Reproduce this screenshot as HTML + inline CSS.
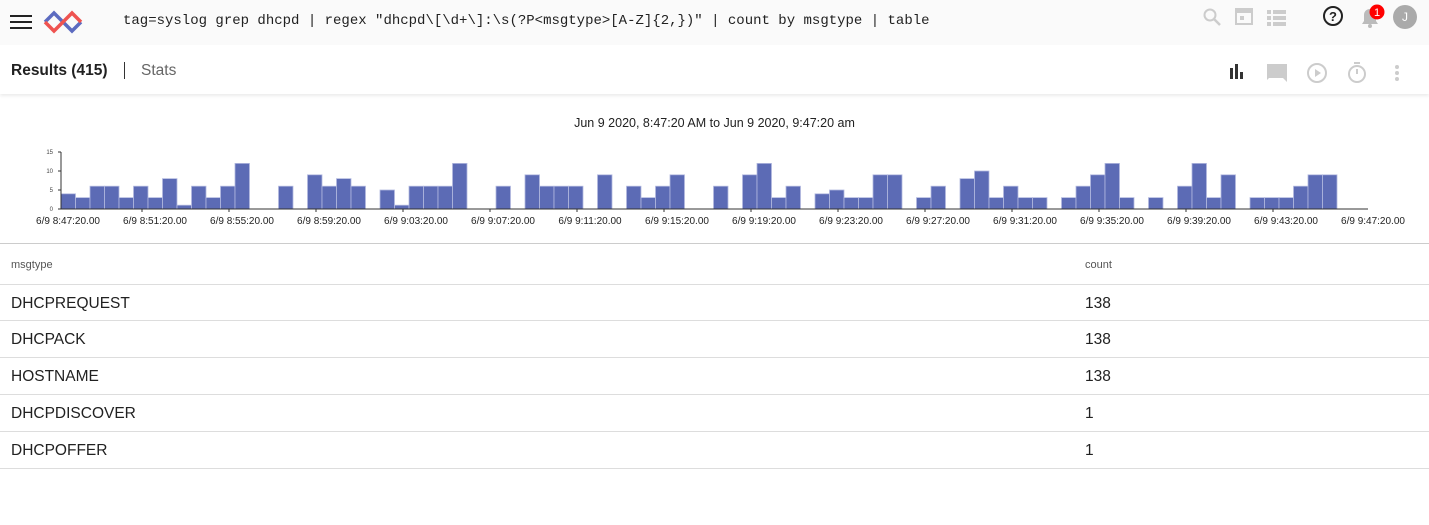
<!DOCTYPE html>
<html><head><meta charset="utf-8"><style>
*{box-sizing:border-box}
body{margin:0;width:1429px;height:525px;overflow:hidden;background:#fff;font-family:"Liberation Sans",sans-serif;color:#212121;position:relative}
.abs{position:absolute}
#topbar{left:0;top:0;width:1429px;height:45px;background:#fafafa}
#query{left:123px;top:13px;font-family:"Liberation Mono",monospace;font-size:14px;color:#212121;white-space:pre}
#toolbar{left:0;top:45px;width:1429px;height:49px;background:#fff;box-shadow:0 2px 3px rgba(0,0,0,0.08)}
.row{left:0;width:1429px;height:37px;border-bottom:1px solid #ddd}
.cell{position:absolute;font-size:15.5px;top:10px}
</style></head><body>
<div id="topbar" class="abs">
 <svg class="abs" style="left:10px;top:13px" width="22" height="18"><rect x="0" y="2" width="22" height="2" fill="#222"/><rect x="0" y="8" width="22" height="2" fill="#222"/><rect x="0" y="14" width="22" height="2" fill="#222"/></svg>
 <svg class="abs" style="left:43px;top:10px" width="40" height="24">
  <path d="M2 12 L11 3 L20 12 L29 21 L38 12" stroke="#5c6bc0" stroke-width="3.5" fill="none"/>
  <path d="M2 12 L11 21 L20 12 L29 3 L38 12" stroke="#ef5350" stroke-width="3.5" fill="none"/>
 </svg>
 <div id="query" class="abs">tag=syslog grep dhcpd | regex "dhcpd\[\d+\]:\s(?P&lt;msgtype&gt;[A-Z]{2,})" | count by msgtype | table</div>
 <svg class="abs" style="left:1202px;top:7px" width="20" height="20"><circle cx="8" cy="8" r="5.5" stroke="#ccc" stroke-width="2" fill="none"/><path d="M12 12 L18 18" stroke="#ccc" stroke-width="2.5"/></svg>
 <svg class="abs" style="left:1234px;top:6px" width="20" height="20"><rect x="2" y="3" width="16" height="15" stroke="#ccc" stroke-width="2" fill="none"/><rect x="2" y="3" width="16" height="4" fill="#ccc"/><rect x="6" y="10" width="4" height="4" fill="#ccc"/></svg>
 <svg class="abs" style="left:1267px;top:8px" width="20" height="18"><g fill="#ccc"><rect x="0" y="2" width="4" height="4"/><rect x="6" y="2" width="13" height="4"/><rect x="0" y="8" width="4" height="4"/><rect x="6" y="8" width="13" height="4"/><rect x="0" y="14" width="4" height="4"/><rect x="6" y="14" width="13" height="4"/></g></svg>
 <svg class="abs" style="left:1322px;top:5px" width="22" height="22"><circle cx="11" cy="11" r="9" stroke="#222" stroke-width="2" fill="none"/><text x="11" y="16" font-size="13" font-weight="bold" text-anchor="middle" fill="#222" font-family="Liberation Sans">?</text></svg>
 <svg class="abs" style="left:1358px;top:4px" width="30" height="24"><path d="M4 20 L20 20 L18 17 L18 11 C18 7 15 5 12 5 C9 5 6 7 6 11 L6 17 Z" fill="#bbb"/><circle cx="12" cy="22" r="2" fill="#bbb"/><circle cx="19" cy="8" r="7.5" fill="#f00"/><text x="19" y="12" font-size="11" text-anchor="middle" fill="#fff" font-family="Liberation Sans">1</text></svg>
 <div class="abs" style="left:1393px;top:5px;width:24px;height:24px;border-radius:50%;background:#aaa;color:#fff;font-size:12px;text-align:center;line-height:24px">J</div>
</div>
<div id="toolbar" class="abs">
 <div class="abs" style="left:11px;top:17px;font-size:15.5px;font-weight:bold;color:#212121">Results (415)</div>
 <div class="abs" style="left:124px;top:17px;width:1px;height:17px;background:#333"></div>
 <div class="abs" style="left:141px;top:17px;font-size:15.5px;color:#666">Stats</div>
 <svg class="abs" style="left:1228px;top:18px" width="20" height="16"><rect x="2" y="5" width="3" height="11" fill="#333"/><rect x="7" y="1" width="3" height="15" fill="#333"/><rect x="12" y="9" width="3" height="7" fill="#333"/></svg>
 <svg class="abs" style="left:1265px;top:17px" width="24" height="22"><path d="M2 2 H22 V16 H4 L2 18 Z" fill="#ccc"/><path d="M18 16 L22 20 V16Z" fill="#ccc"/></svg>
 <svg class="abs" style="left:1306px;top:17px" width="22" height="22"><circle cx="11" cy="11" r="9" stroke="#ccc" stroke-width="2" fill="none"/><path d="M9 7 L15 11 L9 15Z" fill="#ccc"/></svg>
 <svg class="abs" style="left:1346px;top:15px" width="22" height="24"><circle cx="11" cy="14" r="8" stroke="#ccc" stroke-width="2" fill="none"/><rect x="8" y="2" width="6" height="2" fill="#ccc"/><path d="M11 14 L11 9" stroke="#ccc" stroke-width="2"/></svg>
 <svg class="abs" style="left:1393px;top:18px" width="8" height="20"><circle cx="4" cy="4" r="2" fill="#ccc"/><circle cx="4" cy="10" r="2" fill="#ccc"/><circle cx="4" cy="16" r="2" fill="#ccc"/></svg>
</div>
<div class="abs" style="left:0;top:116px;width:1429px;text-align:center;font-size:12.5px;color:#222">Jun 9 2020, 8:47:20 AM to Jun 9 2020, 9:47:20 am</div>
<svg id="chart" class="abs" style="left:0;top:140px" width="1429" height="95"></svg>
<div class="abs" style="left:0;top:243px;width:1429px;height:1px;background:#ccc"></div>
<div class="abs" style="left:11px;top:259px;font-size:11px;color:#555">msgtype</div>
<div class="abs" style="left:1085px;top:259px;font-size:11px;color:#555">count</div>
<div class="abs row" style="top:284px;border-top:1px solid #ddd"><span class="cell" style="left:11px">DHCPREQUEST</span><span class="cell" style="left:1085px">138</span></div>
<div class="abs row" style="top:321px"><span class="cell" style="left:11px">DHCPACK</span><span class="cell" style="left:1085px">138</span></div>
<div class="abs row" style="top:358px"><span class="cell" style="left:11px">HOSTNAME</span><span class="cell" style="left:1085px">138</span></div>
<div class="abs row" style="top:395px"><span class="cell" style="left:11px">DHCPDISCOVER</span><span class="cell" style="left:1085px">1</span></div>
<div class="abs row" style="top:432px"><span class="cell" style="left:11px">DHCPOFFER</span><span class="cell" style="left:1085px">1</span></div>
<script>
const counts=[4,3,6,6,3,6,3,8,1,6,3,6,12,0,0,6,0,9,6,8,6,0,5,1,6,6,6,12,0,0,6,0,9,6,6,6,0,9,0,6,3,6,9,0,0,6,0,9,12,3,6,0,4,5,3,3,9,9,0,3,6,0,8,10,3,6,3,3,0,3,6,9,12,3,0,3,0,6,12,3,9,0,3,3,3,6,9,9,0,0];
const yTicks=[0,5,10,15];
const xLabels=["6/9 8:47:20.00","6/9 8:51:20.00","6/9 8:55:20.00","6/9 8:59:20.00","6/9 9:03:20.00","6/9 9:07:20.00","6/9 9:11:20.00","6/9 9:15:20.00","6/9 9:19:20.00","6/9 9:23:20.00","6/9 9:27:20.00","6/9 9:31:20.00","6/9 9:35:20.00","6/9 9:39:20.00","6/9 9:43:20.00","6/9 9:47:20.00"];
const NS="http://www.w3.org/2000/svg",svg=document.getElementById('chart');
const x0=61,x1=1366,y0=69,yMax=15,yPx=57;
const bw=(x1-x0)/counts.length;
const xs=i=>x0+i*bw, ys=v=>y0-v/yMax*yPx;
function mk(t,a){const e=document.createElementNS(NS,t);for(const k in a)e.setAttribute(k,a[k]);svg.appendChild(e);return e;}
counts.forEach((v,i)=>{if(!v)return;const r=mk('rect',{x:xs(i),y:ys(v),width:bw,height:y0-ys(v),fill:'#5c6bb5',stroke:'#b3bae0','stroke-width':0.8});

});
mk('line',{x1:x0,y1:ys(15),x2:x0,y2:y0,stroke:'#333','stroke-width':1});
mk('line',{x1:x0,y1:y0,x2:x1+2,y2:y0,stroke:'#333','stroke-width':1});
yTicks.forEach(v=>{mk('line',{x1:x0-3,x2:x0,y1:ys(v),y2:ys(v),stroke:'#333'});
const t=mk('text',{x:x0-8,y:ys(v)+2,'font-size':6,'text-anchor':'end',fill:'#444','font-family':'Liberation Sans'});t.textContent=v;

});
const lw=(x1-x0)/(xLabels.length-1);
xLabels.forEach((l,i)=>{const cx=x0+7+i*lw;
if(i>0&&i<xLabels.length-1)mk('line',{x1:x0+i*lw-6,x2:x0+i*lw-6,y1:y0,y2:y0+3,stroke:'#333'});
const t=mk('text',{x:cx,y:y0+15,'font-size':10,'text-anchor':'middle',fill:'#222','font-family':'Liberation Sans'});t.textContent=l;

});
</script>
</body></html>
